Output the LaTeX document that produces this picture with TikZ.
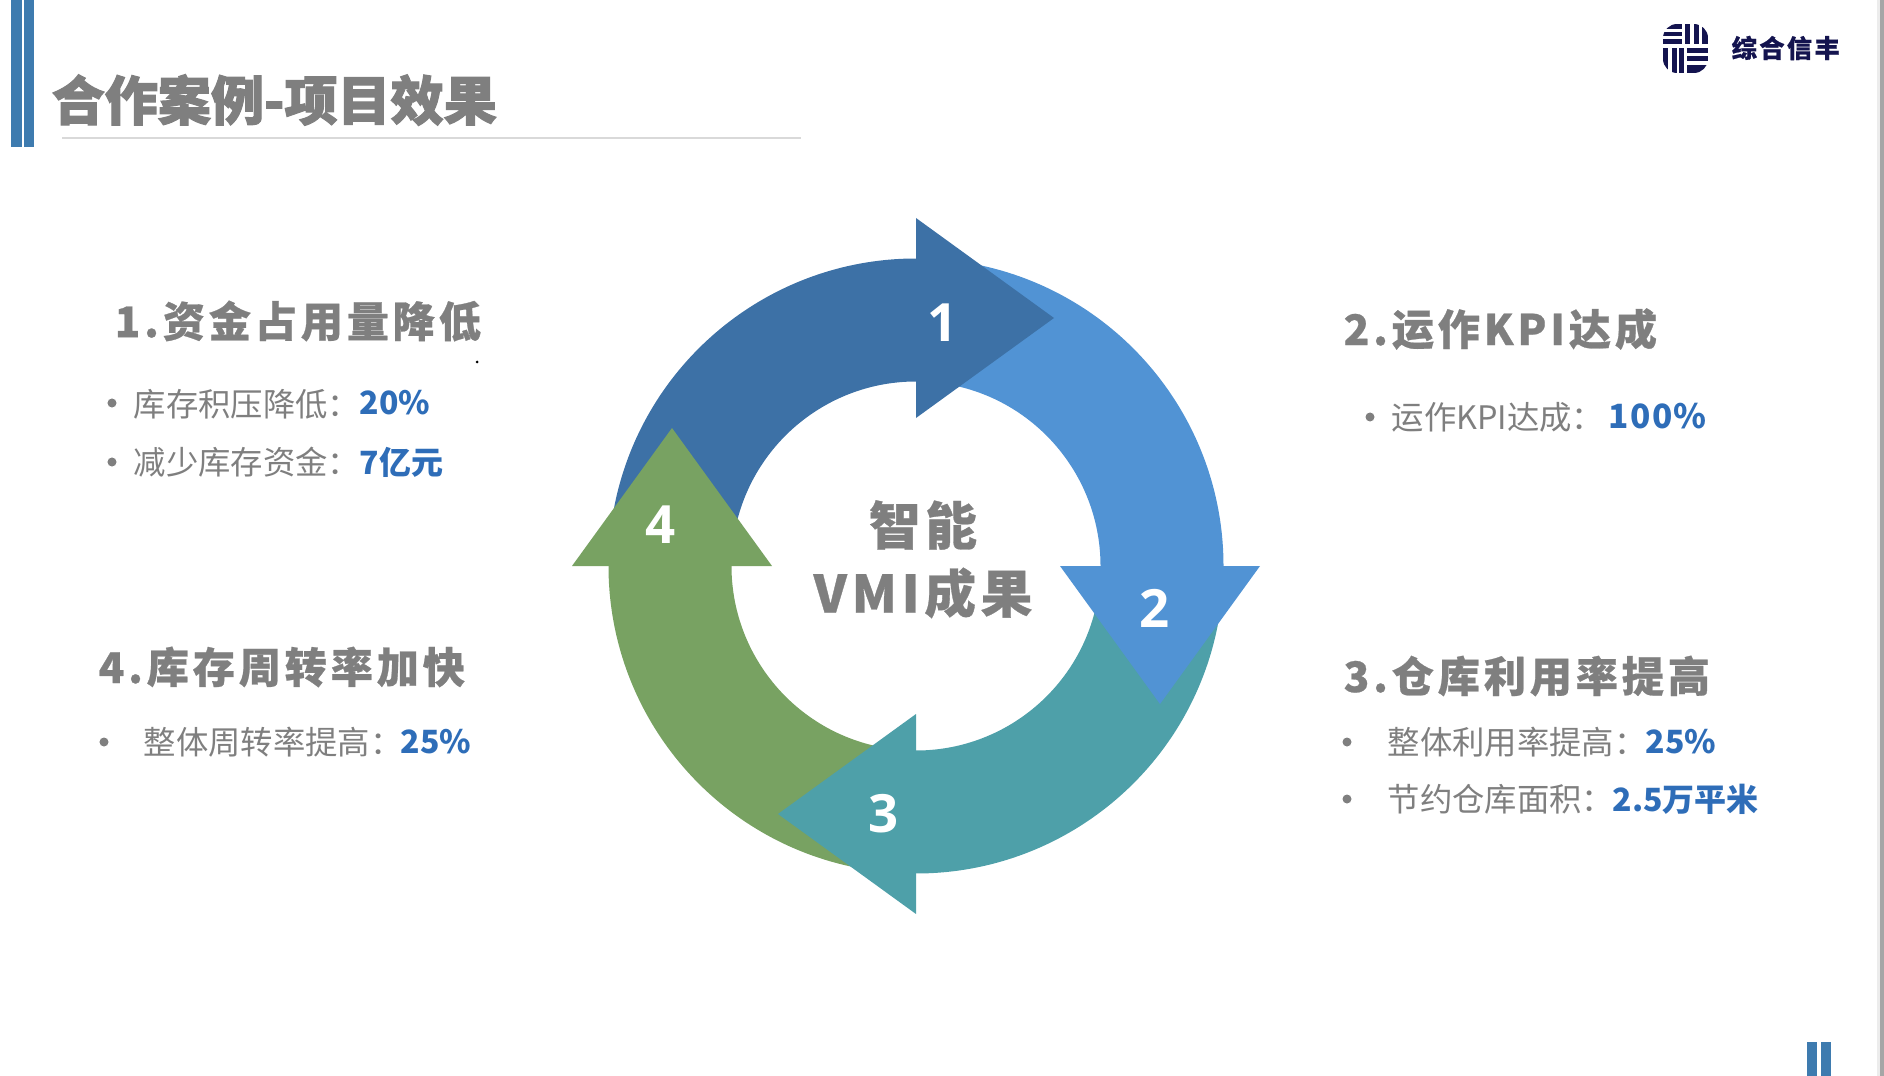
\documentclass[tikz,border=0pt]{standalone}
\usepackage{fontspec}
\usepackage{tikz}
\setmainfont{Noto Sans CJK SC}
\newfontfamily\headfont[LetterSpace=9,BoldFeatures={FakeBold=0.6}]{Noto Sans CJK SC}
\newfontfamily\titlefont[BoldFeatures={FakeBold=2}]{Noto Sans CJK SC}
\newfontfamily\numfont{Open Sans}
\definecolor{barblue}{HTML}{3E7BAF}
\definecolor{ringone}{HTML}{3D71A6}
\definecolor{ringtwo}{HTML}{5193D4}
\definecolor{ringthree}{HTML}{4EA0A9}
\definecolor{ringfour}{HTML}{78A262}
\definecolor{textgray}{HTML}{7F7F7F}
\definecolor{valueblue}{HTML}{2E6DB8}
\definecolor{logonavy}{HTML}{14144F}

\begin{document}
\begin{tikzpicture}[x=0.01cm, y=-0.01cm,
    heading/.style={anchor=west, inner sep=0pt, text=textgray, font=\headfont\bfseries\fontsize{12pt}{14pt}\selectfont},
    item/.style={anchor=west, inner sep=0pt, text=textgray, font=\fontsize{9.2pt}{11pt}\selectfont},
    value/.style={anchor=west, inner sep=0pt, text=valueblue, font=\bfseries\fontsize{9.1pt}{11pt}\selectfont},
    dotmark/.style={circle, fill=textgray, inner sep=0pt, minimum size=0.09cm},
    ringnum/.style={text=white, inner sep=0pt, font=\numfont\bfseries\fontsize{15pt}{17pt}\selectfont},
    hubtext/.style={text=textgray, inner sep=0pt, font=\headfont\bfseries\fontsize{14.7pt}{16pt}\selectfont}
]
\useasboundingbox (0,0) rectangle (1884,1076);

% Side bars and title
\fill[barblue] (11,0) rectangle (22,147);
\fill[barblue] (24,0) rectangle (34,147);
\fill[barblue] (1807,1042) rectangle (1817,1076);
\fill[barblue] (1821,1042) rectangle (1831,1076);
\fill[gray!15] (1877,0) rectangle (1880,1076);
\fill[gray!70] (1880,0) rectangle (1884,1076);
\node[anchor=west, inner sep=0pt, text=textgray, font=\titlefont\bfseries\fontsize{15.1pt}{17pt}\selectfont] (title) at (51,100) {合作案例-项目效果};
\fill[gray!30] (62,137.5) rectangle (801,139.5);

% Logo bars
\begin{scope}
\clip[rounded corners=4] (1663,24) rectangle (1708,73);
\foreach \y/\h in {24/5,32/4.5,39/5} {
    \fill[logonavy] (1663,\y) rectangle ++(19,\h);
}
\foreach \x/\w in {1685/5,1693.5/5,1702/6} {
    \fill[logonavy] (\x,24) rectangle ++(\w,20);
}
\foreach \x in {1663,1671.5,1679} {
    \fill[logonavy] (\x,48) rectangle ++(5,25);
}
\foreach \y/\h in {48/5,56/5.5,65/8} {
    \fill[logonavy] (1687,\y) rectangle ++(21,\h);
}
\end{scope}
\node[anchor=west, inner sep=0pt, text=logonavy, font=\headfont\bfseries\fontsize{7.2pt}{9pt}\selectfont] (logoname) at (1731,48) {综合信丰};

% Ring bodies first, so each head lies over the next body
\begin{scope}[shift={(916,566)}, y=0.01cm]
\foreach \i/\col in {0/ringone,1/ringtwo,2/ringthree,3/ringfour} {
    \fill[\col, rotate=-90*\i] (172:307.5) arc[start angle=172, end angle=89, radius=307.5]
        -- (89:184.5) arc[start angle=89, end angle=172, radius=184.5] -- cycle;
}
\foreach \i/\col/\m in {0/ringone/248,1/ringtwo/244,2/ringthree/248,3/ringfour/244} {
    \fill[\col, rotate=-90*\i] (0,\m+100) -- (138,\m) -- (0,\m-100) -- cycle;
}
\end{scope}

% Ring numbers
\node[ringnum] (numone) at (943,323) {1};
\node[ringnum] (numtwo) at (1155,608) {2};
\node[ringnum] (numthree) at (884,814) {3};
\node[ringnum] (numfour) at (661,525) {4};

% Hub text
\node[hubtext] (hubtop) at (923,525) {智能};
\node[hubtext] (hubbottom) at (923,593) {VMI成果};

% Upper left
\node[heading] (headone) at (114,321) {1.资金占用量降低};
\fill[black] (477,362) circle (1.5);
\node[dotmark] (dotonea) at (112,403) {};
\node[item] (itemonea) at (133,404) {库存积压降低：};
\node[value] (valonea) at (359,403) {20\%};
\node[dotmark] (dotoneb) at (112,462) {};
\node[item] (itemoneb) at (133,462) {减少库存资金：};
\node[value] (valoneb) at (359,462) {7亿元};

% Upper right
\node[heading] (headtwo) at (1343,329) {2.运作KPI达成};
\node[dotmark] (dottwo) at (1370,417) {};
\node[item] (itemtwo) at (1391,417) {运作KPI达成：};
\node[value, font=\bfseries\fontsize{9.5pt}{11pt}\selectfont\addfontfeature{LetterSpace=4}] (valtwo) at (1608,416) {100\%};

% Lower right
\node[heading] (headthree) at (1343,676) {3.仓库利用率提高};
\node[dotmark] (dotthreea) at (1347,742) {};
\node[item] (itemthreea) at (1387,742) {整体利用率提高：};
\node[value] (valthreea) at (1645,742) {25\%};
\node[dotmark] (dotthreeb) at (1347,799) {};
\node[item] (itemthreeb) at (1387,799) {节约仓库面积：};
\node[value] (valthreeb) at (1612,799) {2.5万平米};

% Lower left
\node[heading] (headfour) at (98,667) {4.库存周转率加快};
\node[dotmark] (dotfour) at (104,742) {};
\node[item] (itemfour) at (143,742) {整体周转率提高：};
\node[value] (valfour) at (400,742) {25\%};

\end{tikzpicture}
\end{document}
